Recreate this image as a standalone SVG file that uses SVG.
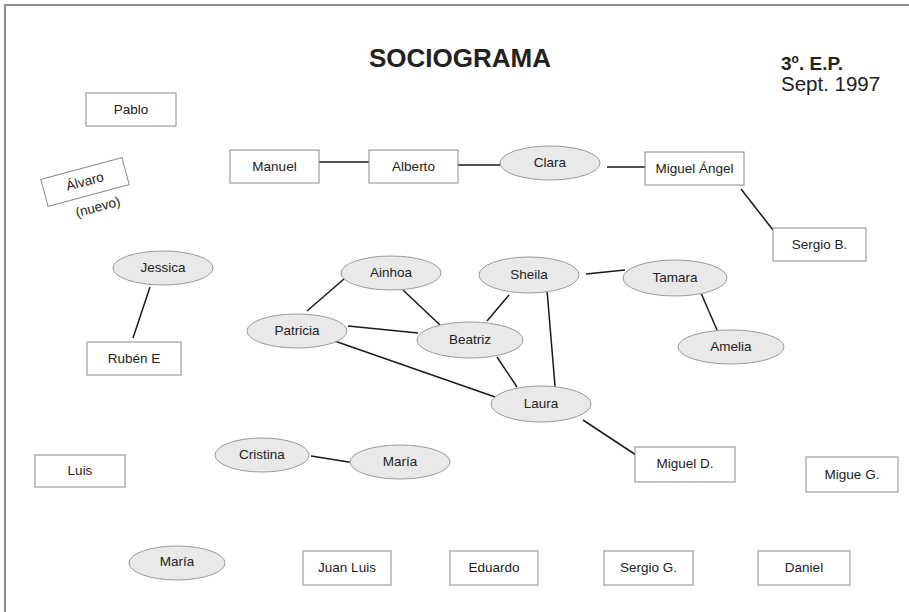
<svg xmlns="http://www.w3.org/2000/svg" width="909" height="612" viewBox="0 0 909 612">
<style>
text{font-family:"Liberation Sans",Arial,sans-serif;fill:#222}
.lbl{font-size:13.5px;text-anchor:middle}
.box{fill:#fff;stroke:#8a8a8a;stroke-width:1}
.ell{fill:#e9e9e9;stroke:#9a9a9a;stroke-width:1}
.edge{stroke:#1a1a1a;stroke-width:1.5;fill:none}
</style>
<rect width="909" height="612" fill="#fff"/>
<path d="M5,612 V5 H909" fill="none" stroke="#8c8c8c" stroke-width="2"/>
<text x="460" y="67" font-size="26" font-weight="bold" text-anchor="middle">SOCIOGRAMA</text>
<text x="781" y="70" font-size="19" font-weight="bold">3<tspan font-size="12" dy="-7">o</tspan><tspan dy="7">. E.P.</tspan></text>
<text x="781" y="91" font-size="20.5">Sept. 1997</text>
<g id="connectors">
<line class="edge" x1="319" y1="162" x2="369" y2="162"/>
<line class="edge" x1="458" y1="165" x2="500" y2="165"/>
<line class="edge" x1="607" y1="167" x2="645" y2="167"/>
<line class="edge" x1="741" y1="189" x2="773" y2="230"/>
<line class="edge" x1="150" y1="287" x2="133" y2="338"/>
<line class="edge" x1="307" y1="311" x2="344" y2="279"/>
<line class="edge" x1="403" y1="290" x2="440" y2="325"/>
<line class="edge" x1="348" y1="326" x2="418" y2="333"/>
<line class="edge" x1="509" y1="295" x2="487" y2="321"/>
<line class="edge" x1="326" y1="338" x2="498" y2="398"/>
<line class="edge" x1="497" y1="357" x2="517" y2="387"/>
<line class="edge" x1="546" y1="278" x2="556" y2="398"/>
<line class="edge" x1="586" y1="274" x2="625" y2="270"/>
<line class="edge" x1="701" y1="293" x2="717" y2="330"/>
<line class="edge" x1="583" y1="420" x2="636" y2="455"/>
<line class="edge" x1="311" y1="456" x2="355" y2="463"/>
</g>
<g id="pablo"><rect class="box" x="86" y="93" width="90" height="33"/><text class="lbl" x="131" y="114">Pablo</text></g>
<g id="alvaro" transform="rotate(-15 85 182)"><rect class="box" x="43" y="168" width="84" height="28"/><text class="lbl" x="85" y="186">Álvaro</text><text class="lbl" x="91" y="214">(nuevo)</text></g>
<g id="manuel"><rect class="box" x="230" y="150" width="89" height="33"/><text class="lbl" x="274.5" y="171">Manuel</text></g>
<g id="alberto"><rect class="box" x="369" y="150" width="89" height="33"/><text class="lbl" x="413.5" y="171">Alberto</text></g>
<g id="clara"><ellipse class="ell" cx="550" cy="163" rx="50" ry="17"/><text class="lbl" x="550" y="167">Clara</text></g>
<g id="miguel-angel"><rect class="box" x="645" y="152" width="99" height="33"/><text class="lbl" x="694.5" y="173">Miguel Ángel</text></g>
<g id="sergio-b"><rect class="box" x="773" y="228" width="93" height="33"/><text class="lbl" x="819.5" y="249">Sergio B.</text></g>
<g id="jessica"><ellipse class="ell" cx="163" cy="268" rx="50" ry="17"/><text class="lbl" x="163" y="272">Jessica</text></g>
<g id="ruben"><rect class="box" x="87" y="342" width="94" height="33"/><text class="lbl" x="134" y="363">Rubén E</text></g>
<g id="ainhoa"><ellipse class="ell" cx="391" cy="273" rx="50" ry="17"/><text class="lbl" x="391" y="277">Ainhoa</text></g>
<g id="patricia"><ellipse class="ell" cx="297" cy="331" rx="50" ry="17"/><text class="lbl" x="297" y="335">Patricia</text></g>
<g id="beatriz"><ellipse class="ell" cx="470" cy="340" rx="53" ry="18"/><text class="lbl" x="470" y="344">Beatriz</text></g>
<g id="sheila"><ellipse class="ell" cx="529" cy="275" rx="50" ry="18"/><text class="lbl" x="529" y="279">Sheila</text></g>
<g id="tamara"><ellipse class="ell" cx="675" cy="278" rx="52" ry="18"/><text class="lbl" x="675" y="282">Tamara</text></g>
<g id="amelia"><ellipse class="ell" cx="731" cy="347" rx="53" ry="17"/><text class="lbl" x="731" y="351">Amelia</text></g>
<g id="laura"><ellipse class="ell" cx="541" cy="404" rx="50" ry="18"/><text class="lbl" x="541" y="408">Laura</text></g>
<g id="miguel-d"><rect class="box" x="635" y="447" width="100" height="35"/><text class="lbl" x="685" y="468">Miguel D.</text></g>
<g id="cristina"><ellipse class="ell" cx="262" cy="455" rx="47" ry="17"/><text class="lbl" x="262" y="459">Cristina</text></g>
<g id="maria-1"><ellipse class="ell" cx="400" cy="462" rx="50" ry="17"/><text class="lbl" x="400" y="466">María</text></g>
<g id="luis"><rect class="box" x="35" y="455" width="90" height="32"/><text class="lbl" x="80" y="475">Luis</text></g>
<g id="migue-g"><rect class="box" x="806" y="457" width="92" height="35"/><text class="lbl" x="852" y="479">Migue G.</text></g>
<g id="maria-2"><ellipse class="ell" cx="177" cy="563" rx="48" ry="17"/><text class="lbl" x="177" y="566">María</text></g>
<g id="juan-luis"><rect class="box" x="303" y="551" width="88" height="34"/><text class="lbl" x="347" y="572">Juan Luis</text></g>
<g id="eduardo"><rect class="box" x="450" y="551" width="88" height="34"/><text class="lbl" x="494" y="572">Eduardo</text></g>
<g id="sergio-g"><rect class="box" x="604" y="551" width="89" height="34"/><text class="lbl" x="648.5" y="572">Sergio G.</text></g>
<g id="daniel"><rect class="box" x="758" y="551" width="92" height="34"/><text class="lbl" x="804" y="572">Daniel</text></g>
</svg>
